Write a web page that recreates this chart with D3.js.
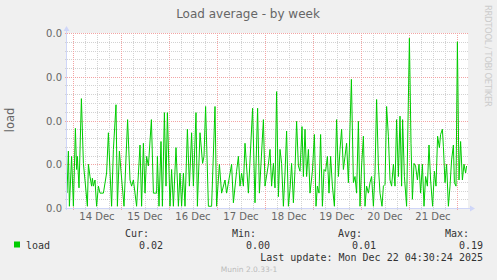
<!DOCTYPE html>
<html><head><meta charset="utf-8">
<script src="https://cdn.jsdelivr.net/npm/d3@7"></script>
<style>body{margin:0;background:#f0f0f0}svg{display:block}</style>
</head><body>
<script>
// ---- data ----
const title = "Load average - by week";
const yLabel = "load";
const seriesName = "load";
const startTime = "2025-12-13T21:00:00Z";
const endTime = "2025-12-22T05:00:00Z";
const hours = [0,0.7,1.2,2.3,3.2,4.2,4.8,5.2,6,7.2,8.2,10.2,10.7,11.5,12.3,12.7,13.2,14,14.8,15.7,16.5,18.2,19.8,20.7,21.5,22.3,23.2,24.5,25.2,26.2,27,28.5,30.3,31.5,32.3,33.2,34.8,36.5,37.3,38.2,39,39.8,40.7,42.2,43.2,44.8,45.2,46,47,47.7,48.7,49.5,50.2,51.5,52.3,53.2,54.5,55.7,56.5,57.3,58.2,59,60.2,61.2,62.3,63.2,64.5,65.2,66.5,67.8,68.5,69.3,70.7,72.3,74,74.8,76.2,77.3,79,79.8,82.3,83.2,84.8,85.7,86.5,87.3,88.2,89,90.7,92.8,94,95.3,96.2,98.2,99,100.7,
101.5,102.3,103.2,104,104.8,105.7,106.5,107.3,108.2,109,109.8,110.7,111.5,112.3,113.2,114,114.8,115.7,116.5,117.5,118.2,119,119.8,120.7,121.5,122.7,123.7,124.5,125.2,126,126.8,127.7,128.5,129.3,130.2,131,131.8,132.7,133.7,134.8,135.7,136.5,137.3,138.2,139,139.8,140.7,142.2,143.2,144,144.8,145.7,146.5,147.3,148.2,149,149.8,150.7,151.5,152.3,153.2,154,154.8,155.7,156.5,157.5,158.2,159,159.8,160.7,161.5,162.3,163.2,164,164.8,165.7,166.5,167.3,167.8,168.7,169.8,171.2,172,172.7,173.5,174.3,175.2,176,176.8,177.7,178.5,179.3,180.2,181,181.8,182.8,183.7,184.5,185.3,186.2,186.8,187.7,188.2,189,189.8,190.7,191.5,192.3,193.2,193.7,194.5,195.2,196,196.8,197.7,198.5,199.3,199.8];
const loads = [0.017,0.065,0.002,0.059,0.002,0.091,0.044,0.059,0.023,0.125,0.051,0.002,0.050,0.036,0.025,0.034,0.025,0.032,0.002,0.025,0.017,0.017,0.040,0.086,0.042,0.002,0.067,0.118,0.002,0.065,0.042,0.002,0.101,0.032,0.025,0.032,0.002,0.072,0.002,0.074,0.017,0.059,0.048,0.101,0.017,0.017,0.059,0.002,0.076,0.002,0.109,0.025,0.109,0.002,0.044,0.002,0.069,0.002,0.040,0.002,0.040,0.002,0.090,0.025,0.086,0.025,0.109,0.002,0.086,0.051,0.059,0.116,0.002,0.002,0.116,0.002,0.050,0.017,0.032,0.017,0.050,0.006,0.042,0.059,0.025,0.040,0.025,0.074,0.017,0.114,0.006,0.114,0.017,0.101,0.025,0.050,
0.067,0.025,0.051,0.023,0.133,0.013,0.067,0.051,0.002,0.040,0.088,0.002,0.021,0.051,0.006,0.044,0.099,0.048,0.042,0.093,0.036,0.090,0.036,0.067,0.017,0.042,0.084,0.002,0.025,0.017,0.084,0.002,0.044,0.042,0.059,0.017,0.059,0.025,0.002,0.101,0.036,0.067,0.090,0.044,0.059,0.074,0.029,0.147,0.029,0.036,0.017,0.099,0.002,0.048,0.082,0.002,0.025,0.017,0.029,0.036,0.002,0.040,0.124,0.048,0.017,0.002,0.025,0.027,0.116,0.082,0.032,0.025,0.050,0.025,0.101,0.036,0.105,0.025,0.101,0.036,0.002,0.194,0.074,0.010,0.051,0.048,0.032,0.050,0.017,0.050,0.002,0.036,0.025,0.072,0.032,0.002,0.042,0.025,0.082,0.069,0.084,0.090,0.070,0.029,0.050,0.002,0.025,0.055,0.072,0.029,0.025,0.190,0.032,0.076,0.032,0.050,0.040,0.048];
const yTicks = [0, 0.05, 0.1, 0.15, 0.2];
const yTickLabels = ["0.0", "0.0", "0.0", "0.0", "0.0"];
const dayLabels = ["14 Dec","15 Dec","16 Dec","17 Dec","18 Dec","19 Dec","20 Dec","21 Dec"];
const dayNoons = ["2025-12-14T12:00:00Z","2025-12-15T12:00:00Z","2025-12-16T12:00:00Z","2025-12-17T12:00:00Z","2025-12-18T12:00:00Z","2025-12-19T12:00:00Z","2025-12-20T12:00:00Z","2025-12-21T12:00:00Z"];
const statHeads = ["Cur:", "Min:", "Avg:", "Max:"];
const statValues = ["0.02", "0.00", "0.01", "0.19"];
const lastUpdate = "Last update: Mon Dec 22 04:30:24 2025";
const footer = "Munin 2.0.33-1";
const watermark = "RRDTOOL / TOBI OETIKER";

// ---- drawing ----
const W = 497, H = 280;
const L = 67, R = 467, T = 33, B = 208;
const svg = d3.select("body").append("svg").attr("width", W).attr("height", H);
svg.append("rect").attr("width", W).attr("height", H).attr("fill", "#f0f0f0");
svg.append("rect").attr("x", L).attr("y", T).attr("width", R - L + 1).attr("height", B - T).attr("fill", "#ffffff");

const t0 = new Date(startTime), t1 = new Date(endTime);
const x = d3.scaleUtc().domain([t0, t1]).range([L, R]);
const y = d3.scaleLinear().domain([0, 0.2]).range([B, T]);
const crisp = v => Math.round(v) + 0.5;

const minorCol = "#d2d2d2", majorCol = "#f2a4a4";
const grid = svg.append("g");
// minor horizontal
d3.range(1, 20).filter(i => i % 5 !== 0).forEach(i => {
  const yy = crisp(y(i / 100));
  grid.append("line").attr("x1", L - 2).attr("x2", R + 1).attr("y1", yy).attr("y2", yy)
    .attr("stroke", minorCol).attr("stroke-dasharray", "1,1");
});
// minor vertical every 6h
x.ticks(d3.utcHour.every(6)).forEach(d => {
  if (d.getUTCHours() === 0) return;
  const xx = crisp(x(d));
  grid.append("line").attr("x1", xx).attr("x2", xx).attr("y1", T).attr("y2", B + 2)
    .attr("stroke", minorCol).attr("stroke-dasharray", "1,1");
});
// major horizontal
yTicks.forEach(v => {
  if (v === 0) return;
  const yy = crisp(y(v));
  grid.append("line").attr("x1", L - 2).attr("x2", R + 1).attr("y1", yy).attr("y2", yy)
    .attr("stroke", majorCol).attr("stroke-dasharray", "1,1");
});
// major vertical (days)
x.ticks(d3.utcDay.every(1)).forEach(d => {
  const xx = crisp(x(d));
  grid.append("line").attr("x1", xx).attr("x2", xx).attr("y1", T).attr("y2", B + 2)
    .attr("stroke", majorCol).attr("stroke-dasharray", "1,1");
});

// data line
const pts = hours.map((h, i) => [new Date(t0.getTime() + h * 3600e3), loads[i]]);
svg.append("path").datum(pts)
  .attr("d", d3.line().x(d => x(d[0])).y(d => y(d[1])))
  .attr("fill", "none").attr("stroke", "#00cc00").attr("stroke-width", 1);

// axes
const axisCol = "#cfd6f8";
svg.append("line").attr("x1", L - 0.5).attr("x2", L - 0.5).attr("y1", B + 2).attr("y2", T - 4).attr("stroke", axisCol);
svg.append("line").attr("x1", L - 2).attr("x2", R + 5).attr("y1", B + 0.5).attr("y2", B + 0.5).attr("stroke", axisCol);
svg.append("path").attr("d", `M${L - 3.5},${T - 2} L${L - 0.5},${T - 7} L${L + 2.5},${T - 2} Z`).attr("fill", axisCol);
svg.append("path").attr("d", `M${R + 3},${B - 2.5} L${R + 8},${B + 0.5} L${R + 3},${B + 3.5} Z`).attr("fill", axisCol);

const font = "'DejaVu Sans', sans-serif";
const mono = "'DejaVu Sans Mono', monospace";
const txt = "#666666";

// y tick labels
yTicks.forEach((v, i) => {
  svg.append("text").attr("x", 62).attr("y", crisp(y(v)) + 3.5).attr("text-anchor", "end")
    .attr("font-family", font).attr("font-size", 10).attr("fill", txt).text(yTickLabels[i]);
});
// x labels
dayLabels.forEach((lab, i) => {
  svg.append("text").attr("x", x(new Date(dayNoons[i]))).attr("y", 220).attr("text-anchor", "middle")
    .attr("font-family", font).attr("font-size", 10).attr("fill", txt).text(lab);
});
// title
svg.append("text").attr("x", 248).attr("y", 18).attr("text-anchor", "middle")
  .attr("font-family", font).attr("font-size", 12).attr("fill", txt).text(title);
// y axis label
svg.append("text").attr("transform", "translate(14,120) rotate(-90)").attr("text-anchor", "middle")
  .attr("font-family", font).attr("font-size", 11.5).attr("fill", txt).text(yLabel);
// watermark
svg.append("text").attr("transform", "translate(485,5) rotate(90)").attr("text-anchor", "start")
  .attr("font-family", font).attr("font-size", 8.5).attr("fill", "#cccccc")
  .attr("textLength", 102).attr("lengthAdjust", "spacing").text(watermark);

// legend
svg.append("rect").attr("x", 14).attr("y", 241.5).attr("width", 6).attr("height", 6).attr("fill", "#00cc00");
svg.append("text").attr("x", 26).attr("y", 249).attr("font-family", mono).attr("font-size", 10)
  .attr("fill", "#333").text(seriesName);
const headRight = [149, 256, 362, 469];
const valRight = [163, 270, 376, 483];
statHeads.forEach((s, i) => {
  svg.append("text").attr("x", headRight[i]).attr("y", 237).attr("text-anchor", "end")
    .attr("font-family", mono).attr("font-size", 10).attr("fill", "#333").text(s);
  svg.append("text").attr("x", valRight[i]).attr("y", 249).attr("text-anchor", "end")
    .attr("font-family", mono).attr("font-size", 10).attr("fill", "#333").text(statValues[i]);
});
svg.append("text").attr("x", 483).attr("y", 261).attr("text-anchor", "end")
  .attr("font-family", mono).attr("font-size", 10).attr("fill", "#333").text(lastUpdate);
svg.append("text").attr("x", 249).attr("y", 272).attr("text-anchor", "middle")
  .attr("font-family", font).attr("font-size", 7.5).attr("fill", "#bbbbbb").text(footer);
</script>
</body></html>
